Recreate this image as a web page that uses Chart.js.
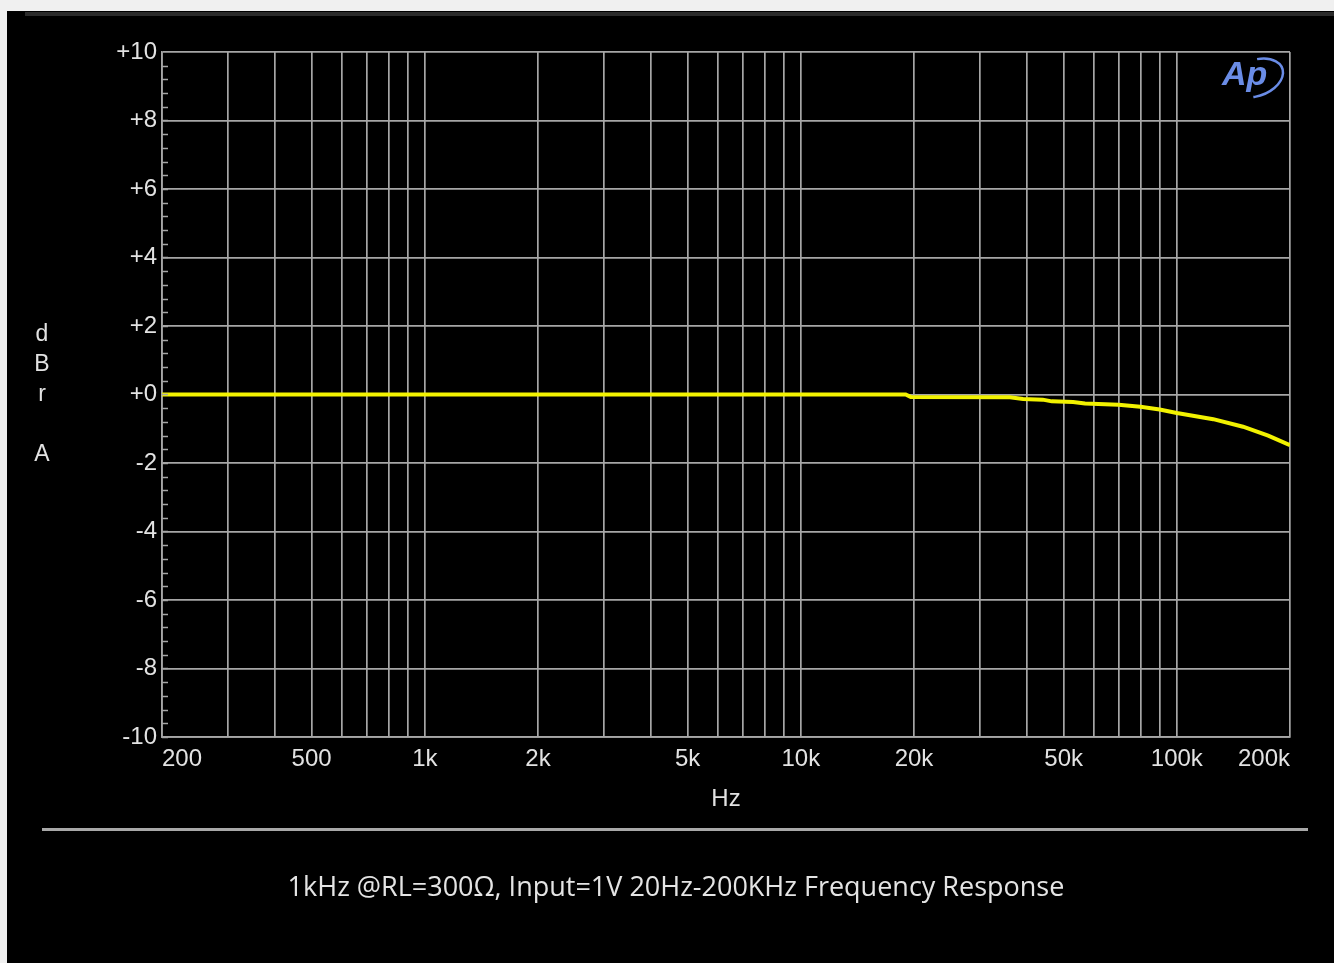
<!DOCTYPE html>
<html>
<head>
<meta charset="utf-8">
<script src="https://cdn.jsdelivr.net/npm/chart.js@4"></script>
<style>
  body { margin: 0; background: #f0f0f0; width: 1334px; height: 963px; overflow: hidden; position: relative; }
  #marco { position: absolute; left: 7px; top: 11px; width: 1327px; height: 952px; background: #000; }
  #borde { position: absolute; left: 25px; top: 12px; width: 1309px; height: 4px; background: #2b2b2b; }
  #myChart { position: absolute; left: 0; top: 0; }
</style>
</head>
<body>
<div id="marco"></div>
<div id="borde"></div>
<canvas id="myChart" width="1334" height="963"></canvas>
<script>
// Datos
const frecuencias = [200, 500, 1000, 2000, 5000, 10000, 19000, 19600, 36000, 39000, 44000, 46500, 53000, 57000, 70000, 80000, 90000, 100000, 125000, 150000, 175000, 200000];
const nivelDb = [0, 0, 0, 0, 0, 0, 0, -0.07, -0.08, -0.13, -0.15, -0.2, -0.22, -0.26, -0.3, -0.36, -0.44, -0.54, -0.72, -0.94, -1.2, -1.48];

// Lineas de grilla en x y sus etiquetas
const gridFrecuencias = [200, 300, 400, 500, 600, 700, 800, 900, 1000, 2000, 3000, 4000, 5000, 6000, 7000, 8000, 9000,
  10000, 20000, 30000, 40000, 50000, 60000, 70000, 80000, 90000, 100000, 200000];
const etiquetasX = { 200: "200", 500: "500", 1000: "1k", 2000: "2k", 5000: "5k", 10000: "10k", 20000: "20k", 50000: "50k", 100000: "100k", 200000: "200k" };
const ticksY = [-10, -8, -6, -4, -2, 0, 2, 4, 6, 8, 10];
const tituloY = ["d", "B", "r", "", "A"];
const titulo = "1kHz @RL=300\u03A9, Input=1V 20Hz-200KHz Frequency Response";

const fuente = "'Liberation Sans', Arial, sans-serif";
const gris = "#a6a6a6";
const texto = "#e2e2e2";

// Plugin para los textos extra, ticks menores y logo
const extras = {
  id: "extras",
  afterDraw(chart) {
    const ctx = chart.ctx;
    const y = chart.scales.y;
    ctx.save();
    // ticks menores del eje y
    ctx.strokeStyle = gris;
    ctx.lineWidth = 1.5;
    for (let v = -10; v < 10; v += 0.4) {
      let py = Math.round(y.getPixelForValue(v)) + 0.5;
      ctx.beginPath();
      ctx.moveTo(chart.chartArea.left, py);
      ctx.lineTo(chart.chartArea.left + 6, py);
      ctx.stroke();
    }
    // titulo vertical dBr A
    ctx.fillStyle = texto;
    ctx.font = "23px " + fuente;
    ctx.textAlign = "center";
    ctx.textBaseline = "middle";
    tituloY.forEach((l, i) => ctx.fillText(l, 42, 335 + i * 30));
    // linea separadora
    ctx.fillStyle = "#a8a8a8";
    ctx.fillRect(42, 828, 1266, 3);
    // titulo de abajo
    ctx.fillStyle = "#e4e4e4";
    ctx.font = "27px 'Open Sans', sans-serif";
    ctx.fillText(titulo, 676, 888);
    // logo AP
    ctx.fillStyle = "#6a8ce6";
    ctx.strokeStyle = "#6a8ce6";
    ctx.font = "italic bold 34px 'Liberation Sans', sans-serif";
    ctx.textAlign = "left";
    ctx.fillText("Ap", 1222, 76);
    ctx.lineWidth = 2.5;
    ctx.beginPath();
    ctx.ellipse(1256, 78, 28, 18, -0.35, -1.3, 1.9);
    ctx.stroke();
    ctx.restore();
  }
};

function renderGrafica() {
  const myChart = document.getElementById("myChart");
  const data = {
    datasets: [{
      data: frecuencias.map((f, i) => ({ x: f, y: nivelDb[i] })),
      borderColor: "#f2f200",
      borderWidth: 4,
      pointRadius: 0,
      tension: 0
    }]
  };
  new Chart(myChart, {
    type: "line",
    data,
    plugins: [extras],
    options: {
      responsive: false,
      animation: false,
      layout: { padding: { left: 62, right: 44, top: 52, bottom: 136 } },
      plugins: { legend: { display: false }, tooltip: { enabled: false } },
      scales: {
        x: {
          type: "logarithmic",
          min: 200,
          max: 200000,
          afterBuildTicks: (scale) => { scale.ticks = gridFrecuencias.map(v => ({ value: v })); },
          afterFit: (scale) => { scale.height = 90; },
          grid: { color: gris, lineWidth: 1.7, drawTicks: false },
          border: { color: gris, width: 1.7 },
          ticks: {
            autoSkip: false,
            maxRotation: 0,
            align: "inner",
            padding: 8,
            color: texto,
            font: { family: fuente, size: 24 },
            callback: (v) => etiquetasX[v] || ""
          },
          title: { display: true, text: "Hz", color: texto, font: { family: fuente, size: 24 }, padding: { top: 0, bottom: 13 } }
        },
        y: {
          min: -10,
          max: 10,
          afterBuildTicks: (scale) => { scale.ticks = ticksY.map(v => ({ value: v })); },
          afterFit: (scale) => { scale.width = 100; },
          grid: { color: gris, lineWidth: 1.7, drawTicks: false },
          border: { color: gris, width: 1.7 },
          ticks: {
            padding: 5,
            color: texto,
            font: { family: fuente, size: 24 },
            callback: (v) => (v >= 0 ? "+" : "") + v
          }
        }
      }
    }
  });
}
renderGrafica();
</script>
</body>
</html>
